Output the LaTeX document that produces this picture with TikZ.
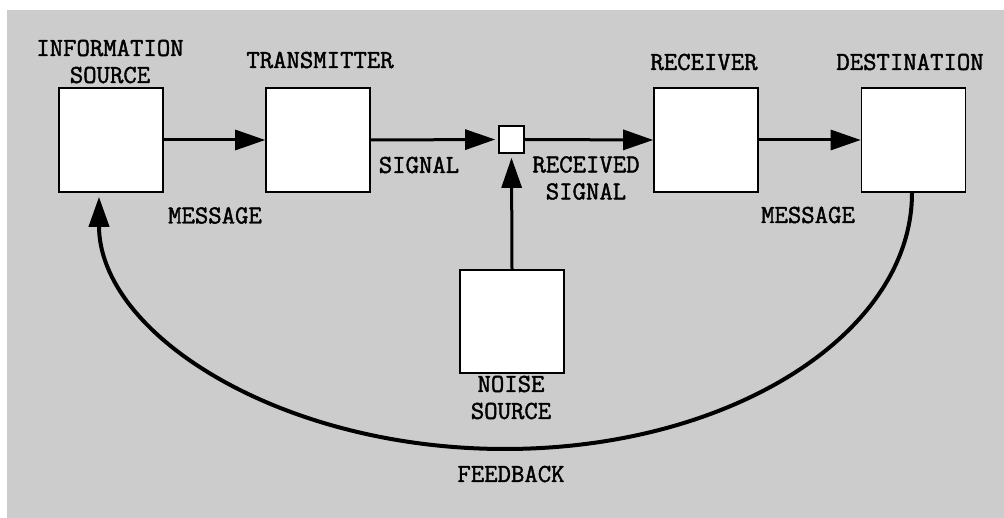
\documentclass[tikz,border=0pt]{standalone}
\usepackage{fontspec}
\setmonofont{Latin Modern Mono}[AutoFakeBold=1.6]
\usetikzlibrary{arrows.meta}
\definecolor{bggray}{RGB}{204,204,204}
\begin{document}
\begin{tikzpicture}[x=1pt,y=-1pt,
  blk/.style={draw=black,line width=1.6pt,fill=white,minimum width=104pt,minimum height=104pt,inner sep=0pt},
  lbl/.style={font=\ttfamily\bfseries\fontsize{26}{27}\selectfont,align=center,inner sep=0pt,text=black},
  flow/.style={line width=3pt,-{Triangle[length=30pt,width=20pt]}},
  fb/.style={line width=4pt,-{Triangle[length=30pt,width=20pt]}}]
\useasboundingbox (0,0) rectangle (1004,518);
\fill[white] (0,0) rectangle (1004,518);
\fill[bggray] (7,10) rectangle (1004,518);
% blocks
\node[blk] (src) at (111,140) {};
\node[blk] (tx) at (318,140) {};
\node[blk,minimum width=25pt,minimum height=27pt] (mix) at (511.5,139.5) {};
\node[blk] (rx) at (706,140) {};
\node[blk] (dst) at (913.5,140) {};
\node[blk,minimum height=103pt] (noise) at (512,321.5) {};
% labels
\node[lbl] (lsrc) at (110,61.5) {INFORMATION\\SOURCE};
\node[lbl] (ltx) at (320,60) {TRANSMITTER};
\node[lbl] (lrx) at (704,62) {RECEIVER};
\node[lbl] (ldst) at (910,62) {DESTINATION};
\node[lbl] (lsig) at (419,165) {SIGNAL};
\node[lbl] (lrsig) at (586,178) {RECEIVED\\SIGNAL};
\node[lbl] (lmsg1) at (215,215.5) {MESSAGE};
\node[lbl] (lmsg2) at (808,215) {MESSAGE};
\node[lbl] (lnoise) at (511,397.5) {NOISE\\SOURCE};
\node[lbl] (lfb) at (511,474) {FEEDBACK};
% connectors
\draw[flow] (src.east) -- (tx.west);
\draw[flow,shorten >=3pt] (tx.east) -- (mix.west);
\draw[flow] (mix.east) -- (rx.west);
\draw[flow] (rx.east) -- (dst.west);
\draw[flow,shorten >=4pt] (noise.north) -- (mix.south);
\coordinate (fbend) at ([xshift=-12pt]src.south);
\coordinate (fbstart) at ([xshift=-1.5pt]dst.south);
\draw[fb,shorten >=4pt] (fbstart) .. controls (912,334) and (730,449) .. (505,449)
  .. controls (280,449) and (99,334) .. (fbend);
\end{tikzpicture}
\end{document}
